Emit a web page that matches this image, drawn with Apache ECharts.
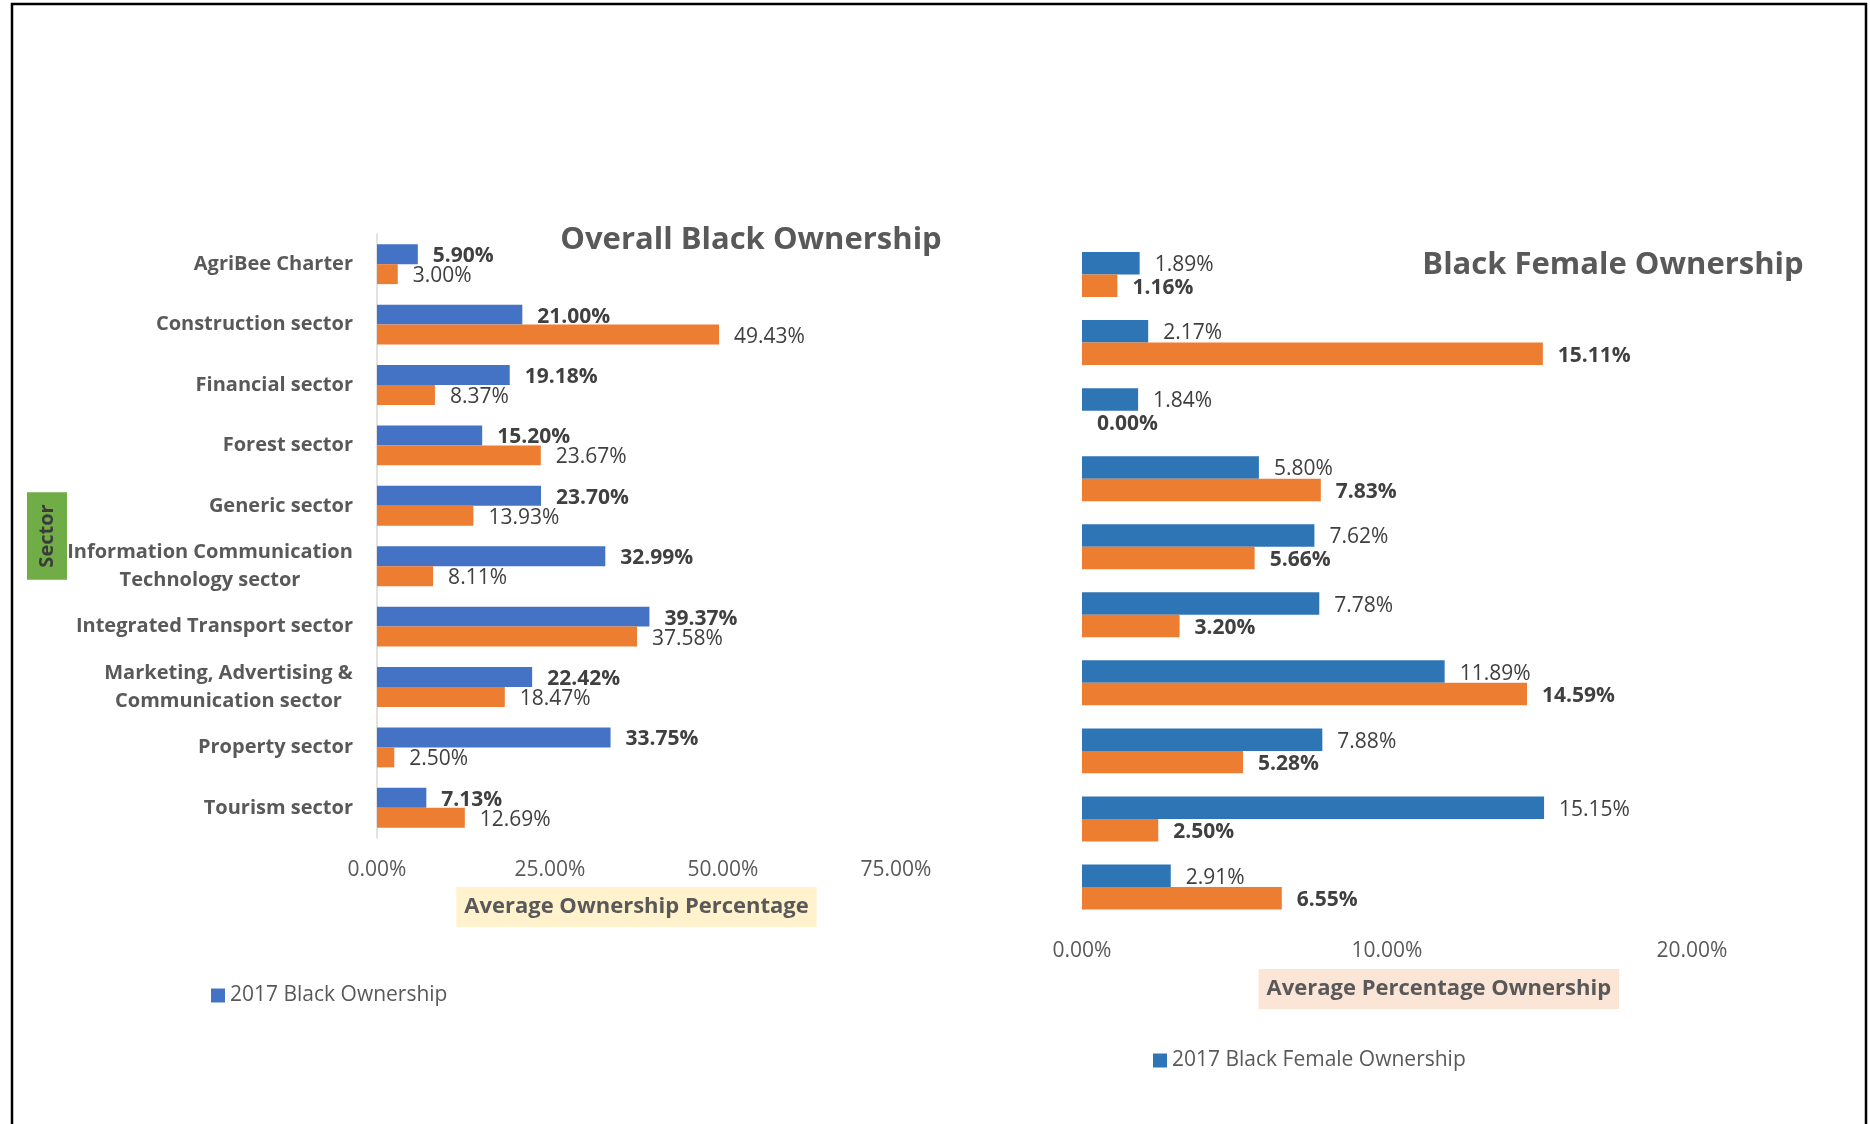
<!DOCTYPE html>
<html>
<head>
<meta charset="utf-8">
<script src="https://cdn.jsdelivr.net/npm/echarts@6/dist/echarts.min.js"></script>
<style>
  html, body { margin: 0; padding: 0; background: #fff; }
  #chart { width: 1870px; height: 1124px; }
</style>
</head>
<body>
<div id="chart"></div>
<script>
// 数据
const categories = [
  'AgriBee Charter',
  'Construction sector',
  'Financial sector',
  'Forest sector',
  'Generic sector',
  'Information Communication\nTechnology sector',
  'Integrated Transport sector',
  'Marketing, Advertising &\nCommunication sector',
  'Property sector',
  'Tourism sector'
];
const overall2017 = [5.90, 21.00, 19.18, 15.20, 23.70, 32.99, 39.37, 22.42, 33.75, 7.13];
const overallOther = [3.00, 49.43, 8.37, 23.67, 13.93, 8.11, 37.58, 18.47, 2.50, 12.69];
const female2017 = [1.89, 2.17, 1.84, 5.80, 7.62, 7.78, 11.89, 7.88, 15.15, 2.91];
const femaleOther = [1.16, 15.11, 0.00, 7.83, 5.66, 3.20, 14.59, 5.28, 2.50, 6.55];

const FONT = '"Open Sans", "Noto Sans", sans-serif';
const GREY = '#595959';
const LABEL = '#404040';

// 多行标签: 每行居中, 整体右对齐
const ctx = document.createElement('canvas').getContext('2d');
ctx.font = 'bold 20px "Open Sans"';
const rich = {};
const catKey = {};
categories.forEach((c, i) => {
  const lines = c.split('\n');
  if (lines.length > 1) {
    const w = Math.ceil(Math.max(...lines.map(l => ctx.measureText(l).width)));
    rich['c' + i] = { width: w, align: 'center', fontSize: 20, fontWeight: 'bold', color: GREY, fontFamily: FONT, lineHeight: 28 };
    catKey[c] = 'c' + i;
  }
});
function catLabel(v) {
  if (!catKey[v]) return v;
  return v.split('\n').map(l => '{' + catKey[v] + '|' + l + '}').join('\n');
}

const pct = v => v.toFixed(2) + '%';

function barLabel(bold) {
  return {
    show: true,
    position: 'right',
    distance: 15,
    offset: [0, 2],
    formatter: p => pct(p.value),
    fontFamily: FONT,
    fontSize: 21,
    fontWeight: bold ? 'bold' : 'normal',
    color: LABEL
  };
}

let myCharts = echarts.init(document.getElementById('chart'));

let option = {
  animation: false,
  textStyle: { fontFamily: FONT },
  title: [
    {
      text: 'Overall Black Ownership',
      left: 751, top: 240,
      textAlign: 'center', textVerticalAlign: 'middle',
      padding: 0,
      textStyle: { fontFamily: FONT, fontSize: 31, fontWeight: 'bold', color: GREY }
    },
    {
      text: 'Black Female Ownership',
      left: 1613, top: 265,
      textAlign: 'center', textVerticalAlign: 'middle',
      padding: 0,
      textStyle: { fontFamily: FONT, fontSize: 31, fontWeight: 'bold', color: GREY }
    }
  ],
  legend: [
    {
      data: ['2017 Black Ownership'],
      left: 206, top: 980,
      icon: 'rect', itemWidth: 14, itemHeight: 14, itemGap: 20,
      textStyle: { fontFamily: FONT, fontSize: 21, color: GREY }
    },
    {
      data: ['2017 Black Female Ownership'],
      left: 1148, top: 1045,
      icon: 'rect', itemWidth: 14, itemHeight: 14, itemGap: 20,
      textStyle: { fontFamily: FONT, fontSize: 21, color: GREY }
    }
  ],
  grid: [
    { left: 377, top: 234, width: 519, height: 604, containLabel: false },
    { left: 1082, top: 240.5, width: 713.7, height: 680.5, containLabel: false }
  ],
  xAxis: [
    {
      gridIndex: 0, type: 'value', min: 0, max: 75, interval: 25,
      axisLine: { show: false }, axisTick: { show: false }, splitLine: { show: false },
      axisLabel: { formatter: pct, fontFamily: FONT, fontSize: 21, color: GREY, margin: 22 },
      name: 'Average Ownership Percentage',
      nameLocation: 'middle', nameGap: 49,
      nameTextStyle: {
        fontFamily: FONT, fontSize: 22, fontWeight: 'bold', color: GREY,
        backgroundColor: '#FFF2CC', padding: [9, 8]
      }
    },
    {
      gridIndex: 1, type: 'value', min: 0, max: 23.4, interval: 10,
      axisLine: { show: false }, axisTick: { show: false }, splitLine: { show: false },
      axisLabel: { formatter: pct, fontFamily: FONT, fontSize: 21, color: GREY, margin: 20, showMaxLabel: false },
      name: 'Average Percentage Ownership',
      nameLocation: 'middle', nameGap: 48,
      nameTextStyle: {
        fontFamily: FONT, fontSize: 22, fontWeight: 'bold', color: GREY,
        backgroundColor: '#FBE5D6', padding: [9, 8]
      }
    }
  ],
  yAxis: [
    {
      gridIndex: 0, type: 'category', data: categories, inverse: true,
      axisLine: { show: true, lineStyle: { color: '#D9D9D9', width: 1.5 } },
      axisTick: { show: false },
      axisLabel: {
        formatter: catLabel, rich: rich,
        fontFamily: FONT, fontSize: 20, fontWeight: 'bold', color: GREY,
        lineHeight: 28, margin: 24
      },
      name: 'Sector',
      nameLocation: 'middle', nameRotate: 90, nameGap: 310,
      nameMoveOverlap: false,
      nameTextStyle: {
        fontFamily: FONT, fontSize: 20, fontWeight: 'bold', color: '#3B3B3B',
        backgroundColor: '#70AD47', padding: [10, 12]
      }
    },
    {
      gridIndex: 1, type: 'category', data: categories, inverse: true,
      axisLine: { show: false }, axisTick: { show: false }, axisLabel: { show: false }
    }
  ],
  series: [
    {
      name: '2017 Black Ownership', type: 'bar',
      xAxisIndex: 0, yAxisIndex: 0,
      data: overall2017,
      itemStyle: { color: '#4472C4' },
      barGap: '0%', barCategoryGap: '34%',
      label: barLabel(true)
    },
    {
      name: 'Other Black Ownership', type: 'bar',
      xAxisIndex: 0, yAxisIndex: 0,
      data: overallOther,
      itemStyle: { color: '#ED7D31' },
      barGap: '0%', barCategoryGap: '34%',
      label: barLabel(false)
    },
    {
      name: '2017 Black Female Ownership', type: 'bar',
      xAxisIndex: 1, yAxisIndex: 1,
      data: female2017,
      itemStyle: { color: '#2E75B6' },
      barGap: '0%', barCategoryGap: '34%',
      label: barLabel(false)
    },
    {
      name: 'Other Black Female Ownership', type: 'bar',
      xAxisIndex: 1, yAxisIndex: 1,
      data: femaleOther,
      itemStyle: { color: '#ED7D31' },
      barGap: '0%', barCategoryGap: '34%',
      label: barLabel(true)
    }
  ],
  // 外框
  graphic: [
    {
      type: 'rect', silent: true, z: 100,
      shape: { x: 12, y: 4, width: 1854, height: 1200 },
      style: { fill: null, stroke: '#000', lineWidth: 2.5 }
    }
  ]
};

myCharts.setOption(option);
</script>
</body>
</html>
